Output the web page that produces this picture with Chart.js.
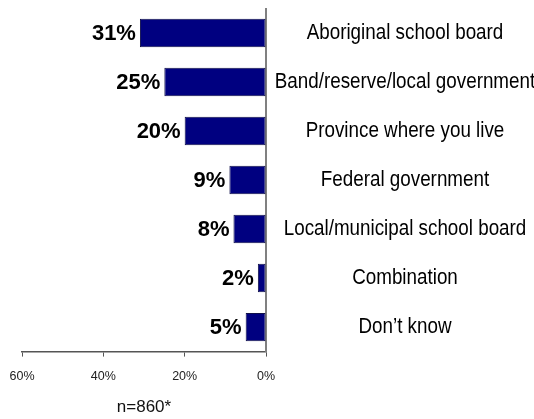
<!DOCTYPE html>
<html>
<head>
<meta charset="utf-8">
<script src="https://cdn.jsdelivr.net/npm/chart.js@4/dist/chart.umd.min.js"></script>
<style>
  html, body { margin: 0; padding: 0; background: #fff; }
  canvas { display: block; }
</style>
</head>
<body>
<canvas id="chart" width="534" height="419"></canvas>
<script>
// who should run schools - share of respondents
var categories = [
  'Aboriginal school board',
  'Band/reserve/local government',
  'Province where you live',
  'Federal government',
  'Local/municipal school board',
  'Combination',
  'Don\u2019t know'
];
var shares = [31, 25, 20, 9, 8, 2, 5];
var xTicks = [0, 20, 40, 60];
var sampleNote = 'n=860*';

var regular = '"Liberation Sans", Arial, sans-serif';

// bold percentages to the left of each bar end
var valueLabels = {
  id: 'valueLabels',
  afterDatasetsDraw: function(chart) {
    var ctx = chart.ctx;
    var meta = chart.getDatasetMeta(0);
    ctx.save();
    ctx.font = 'bold 22px ' + regular;
    ctx.fillStyle = '#000';
    ctx.textAlign = 'right';
    ctx.textBaseline = 'middle';
    meta.data.forEach(function(bar, i) {
      ctx.fillText(shares[i] + '%', bar.x - 4, bar.y + 1);
    });
    ctx.restore();
  }
};

// category names in a condensed face, centred in the right-hand axis box
var categoryLabels = {
  id: 'categoryLabels',
  afterDraw: function(chart) {
    var ctx = chart.ctx;
    var y = chart.scales.y;
    var cx = y.left + y.width / 2 + 5;
    ctx.save();
    ctx.font = '22px ' + regular;
    ctx.fillStyle = '#000';
    ctx.textAlign = 'center';
    ctx.textBaseline = 'middle';
    categories.forEach(function(name, i) {
      ctx.save();
      ctx.translate(cx, y.getPixelForValue(i));
      ctx.scale(0.855, 1);
      ctx.fillText(name, 0, 0);
      ctx.restore();
    });
    ctx.restore();
  }
};

new Chart(document.getElementById('chart'), {
  type: 'bar',
  data: {
    labels: categories,
    datasets: [{
      data: shares,
      backgroundColor: '#000080',
      borderColor: '#10104a',
      borderWidth: 1,
      borderSkipped: false,
      categoryPercentage: 1,
      barPercentage: 0.58
    }]
  },
  options: {
    indexAxis: 'y',
    responsive: false,
    animation: false,
    devicePixelRatio: 1,
    layout: { padding: { left: 22, top: 8.5, right: 0, bottom: 0 } },
    plugins: {
      legend: { display: false },
      tooltip: { enabled: false }
    },
    scales: {
      x: {
        reverse: true,
        min: 0,
        max: 60,
        afterBuildTicks: function(scale) {
          scale.ticks = xTicks.map(function(v) { return { value: v }; });
        },
        grid: {
          drawOnChartArea: false,
          drawTicks: true,
          tickLength: 5,
          color: '#555'
        },
        border: { display: true, color: '#555', width: 1.5 },
        ticks: {
          padding: 12,
          color: '#222',
          maxRotation: 0,
          font: { family: regular, size: 12.5 },
          callback: function(v) { return v + '%'; }
        },
        title: {
          display: true,
          text: sampleNote,
          color: '#111',
          padding: { top: 2, bottom: 1 },
          font: { family: regular, size: 17 }
        }
      },
      y: {
        position: 'right',
        afterFit: function(scale) {
          scale.width = 268;
          scale.paddingTop = 0;
          scale.paddingBottom = 0;
        },
        grid: { display: false, drawTicks: false },
        border: { display: true, color: '#808080', width: 2 },
        ticks: { display: false }
      }
    }
  },
  plugins: [valueLabels, categoryLabels]
});
</script>
</body>
</html>
